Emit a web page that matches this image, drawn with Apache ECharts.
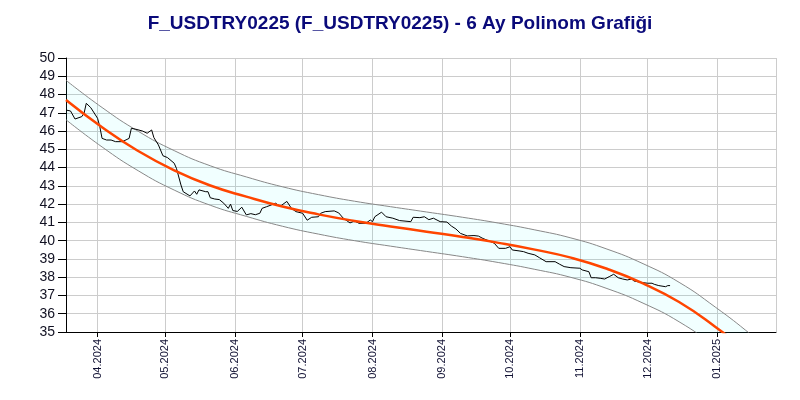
<!DOCTYPE html>
<html>
<head>
<meta charset="utf-8">
<script src="https://cdn.jsdelivr.net/npm/echarts@6/dist/echarts.min.js"></script>
<style>html,body{margin:0;padding:0;background:#fff;}#c{width:800px;height:400px;}</style>
</head>
<body>
<div id="c"></div>
<script>
const titleText = 'F_USDTRY0225 (F_USDTRY0225) - 6 Ay Polinom Grafiği';

const priceDates = ['2024-03-18','2024-03-20','2024-03-22','2024-03-25','2024-03-26','2024-03-27','2024-03-29','2024-04-01','2024-04-02','2024-04-03','2024-04-05','2024-04-07','2024-04-09','2024-04-12','2024-04-15','2024-04-16','2024-04-18','2024-04-21','2024-04-23','2024-04-25','2024-04-26','2024-04-28','2024-04-30','2024-05-02','2024-05-05','2024-05-06','2024-05-08','2024-05-09','2024-05-12','2024-05-14','2024-05-15','2024-05-16','2024-05-19','2024-05-20','2024-05-21','2024-05-23','2024-05-25','2024-05-27','2024-05-29','2024-05-30','2024-05-31','2024-06-02','2024-06-04','2024-06-06','2024-06-08','2024-06-10','2024-06-12','2024-06-13','2024-06-15','2024-06-17','2024-06-19','2024-06-21','2024-06-24','2024-06-26','2024-06-28','2024-07-01','2024-07-03','2024-07-05','2024-07-08','2024-07-09','2024-07-11','2024-07-15','2024-07-17','2024-07-19','2024-07-22','2024-07-24','2024-07-26','2024-07-29','2024-07-31','2024-08-01','2024-08-02','2024-08-05','2024-08-07','2024-08-10','2024-08-13','2024-08-18','2024-08-19','2024-08-22','2024-08-24','2024-08-26','2024-08-28','2024-08-31','2024-09-03','2024-09-05','2024-09-07','2024-09-09','2024-09-12','2024-09-15','2024-09-17','2024-09-19','2024-09-21','2024-09-24','2024-09-26','2024-09-29','2024-10-01','2024-10-02','2024-10-05','2024-10-07','2024-10-09','2024-10-12','2024-10-14','2024-10-17','2024-10-21','2024-10-23','2024-10-25','2024-10-28','2024-11-01','2024-11-02','2024-11-05','2024-11-06','2024-11-08','2024-11-10','2024-11-12','2024-11-14','2024-11-16','2024-11-18','2024-11-20','2024-11-22','2024-11-24','2024-11-25','2024-11-28','2024-12-01','2024-12-03','2024-12-04','2024-12-06','2024-12-09','2024-12-10','2024-12-11'];
const prices = [47.15,47.10,46.66,46.79,46.97,47.52,47.28,46.70,46.24,45.60,45.51,45.51,45.42,45.42,45.60,46.15,46.10,46.00,45.88,46.06,45.64,45.24,44.65,44.55,44.24,43.96,43.05,42.68,42.45,42.72,42.54,42.78,42.68,42.68,42.35,42.28,42.25,42.05,41.77,42.00,41.65,41.60,41.83,41.41,41.48,41.42,41.50,41.77,41.86,41.95,42.05,41.88,42.15,41.77,41.59,41.50,41.12,41.28,41.31,41.50,41.59,41.63,41.52,41.23,40.97,41.08,40.95,40.95,41.13,41.04,41.31,41.56,41.31,41.23,41.10,41.04,41.28,41.26,41.31,41.15,41.23,41.04,41.02,40.80,40.64,40.40,40.26,40.28,40.25,40.12,40.02,39.86,39.58,39.58,39.67,39.49,39.44,39.40,39.31,39.22,39.07,38.85,38.85,38.71,38.58,38.52,38.49,38.40,38.30,37.97,37.97,37.94,37.90,38.03,38.16,37.97,37.90,37.85,37.90,37.79,37.72,37.67,37.67,37.61,37.54,37.48,37.54,37.54];

const fitDates = ['2024-03-18','2024-04-03','2024-04-19','2024-05-05','2024-05-21','2024-06-06','2024-06-22','2024-07-08','2024-07-24','2024-08-09','2024-08-25','2024-09-10','2024-09-26','2024-10-12','2024-10-28','2024-11-13','2024-11-29','2024-12-15','2024-12-31','2025-01-16','2025-01-27'];
const fitValues   = [47.70,46.21,44.91,43.85,43.02,42.41,41.87,41.44,41.08,40.78,40.49,40.20,39.88,39.51,39.07,38.46,37.66,36.64,35.29,33.77,32.61];
const upperValues = [48.78,47.29,45.99,44.93,44.10,43.49,42.95,42.52,42.16,41.86,41.57,41.28,40.96,40.59,40.15,39.54,38.74,37.72,36.37,34.85,33.69];
const lowerValues = [46.62,45.13,43.83,42.77,41.94,41.33,40.79,40.36,40.00,39.70,39.41,39.12,38.80,38.43,37.99,37.38,36.58,35.56,34.21,32.69,31.53];

const xMin = '2024-03-18';
const xMax = '2025-01-27';
const yMin = 35, yMax = 50, yStep = 1;

const zip = (xs, ys) => xs.map((x, i) => [x, ys[i]]);
const bandWidth = fitDates.map((d, i) => [d, +(upperValues[i] - lowerValues[i]).toFixed(2)]);

const chart = echarts.init(document.getElementById('c'), null, {renderer: 'canvas'});
chart.setOption({
  animation: false,
  backgroundColor: '#ffffff',
  title: {
    text: titleText,
    left: 'center',
    top: 9,
    textStyle: {fontFamily: 'Arial, Liberation Sans, sans-serif', fontSize: 19, fontWeight: 'bold', color: '#0a0a7a'}
  },
  grid: {left: 66, right: 24, top: 58, bottom: 68, containLabel: false},
  xAxis: {
    type: 'time',
    min: xMin,
    max: xMax,
    minInterval: 28 * 86400000,
    maxInterval: 31 * 86400000,
    axisLine: {show: true, lineStyle: {color: '#000', width: 1}},
    axisTick: {show: true, length: 5, lineStyle: {color: '#000'}},
    splitLine: {show: true, lineStyle: {color: '#cccccc', width: 1}},
    axisLabel: {
      rotate: 90,
      fontFamily: 'Arial, Liberation Sans, sans-serif',
      fontSize: 11,
      color: '#111133',
      margin: 7,
      showMinLabel: false,
      showMaxLabel: false,
      formatter: function (v) {
        const d = new Date(v);
        return String(d.getMonth() + 1).padStart(2, '0') + '.' + d.getFullYear();
      }
    }
  },
  yAxis: {
    type: 'value',
    min: yMin,
    max: yMax,
    interval: yStep,
    axisLine: {show: true, lineStyle: {color: '#000', width: 1}},
    axisTick: {show: true, length: 8, lineStyle: {color: '#000'}},
    splitLine: {show: true, lineStyle: {color: '#cccccc', width: 1}},
    axisLabel: {fontFamily: 'Arial, Liberation Sans, sans-serif', fontSize: 14, color: '#111122', margin: 11}
  },
  series: [
    {
      name: 'bandBase', type: 'line', stack: 'band', smooth: 0.5, symbol: 'none',
      data: zip(fitDates, lowerValues), lineStyle: {opacity: 0}, silent: true, z: 1
    },
    {
      name: 'band', type: 'line', stack: 'band', smooth: 0.5, symbol: 'none',
      data: bandWidth, lineStyle: {opacity: 0},
      areaStyle: {color: 'rgba(0,255,255,0.08)'}, silent: true, z: 1
    },
    {
      name: 'upper', type: 'line', smooth: 0.5, symbol: 'none',
      data: zip(fitDates, upperValues), lineStyle: {color: '#888888', width: 1}, z: 2
    },
    {
      name: 'lower', type: 'line', smooth: 0.5, symbol: 'none',
      data: zip(fitDates, lowerValues), lineStyle: {color: '#888888', width: 1}, z: 2
    },
    {
      name: 'price', type: 'line', symbol: 'none',
      data: zip(priceDates, prices), lineStyle: {color: '#000000', width: 1}, z: 3
    },
    {
      name: 'fit', type: 'line', smooth: 0.5, symbol: 'none',
      data: zip(fitDates, fitValues), lineStyle: {color: '#ff4500', width: 2.5}, z: 4
    }
  ]
});
</script>
</body>
</html>
